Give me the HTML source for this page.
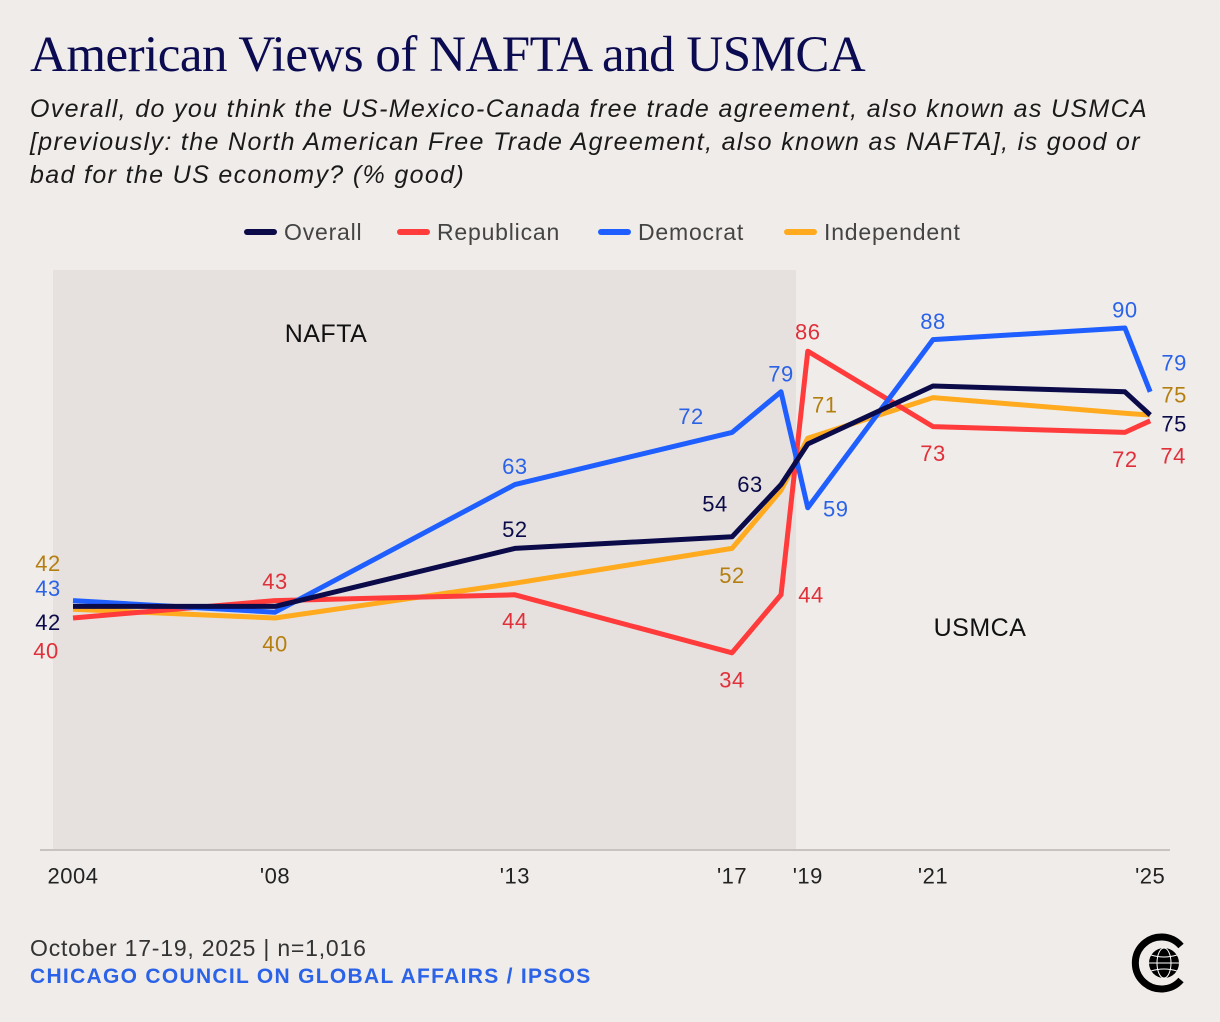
<!DOCTYPE html>
<html><head><meta charset="utf-8">
<style>
body{margin:0;background:#f0ece9;width:1220px;height:1022px;overflow:hidden;font-family:"Liberation Sans",sans-serif;}
#wrap{position:relative;width:1220px;height:1022px;}
.t{position:absolute;white-space:nowrap;}
</style></head><body>
<div id="wrap">
<div class="t" style="left:30px;top:26px;font-family:'Liberation Serif',serif;font-size:51px;color:#0b0b52;letter-spacing:-0.5px;">American Views of NAFTA and USMCA</div>
<div class="t" style="left:30px;top:93px;font-size:25px;line-height:33px;font-style:italic;color:#1a1a1a;letter-spacing:1.35px;">Overall, do you think the US-Mexico-Canada free trade agreement, also known as USMCA<br>[previously: the North American Free Trade Agreement, also known as NAFTA], is good or<br>bad for the US economy? (% good)</div>
<svg id="chart" width="1220" height="1022" style="position:absolute;left:0;top:0"></svg>
<div class="t" style="left:30px;top:935px;font-size:23px;color:#333;letter-spacing:0.8px;">October 17-19, 2025 | n=1,016</div>
<div class="t" style="left:30px;top:965px;font-size:21px;font-weight:bold;color:#2a62e8;letter-spacing:1.3px;">CHICAGO COUNCIL ON GLOBAL AFFAIRS / IPSOS</div>
<svg width="70" height="70" style="position:absolute;left:1126px;top:928px">
<path d="M55 18 A26 26 0 1 0 55 52" fill="none" stroke="#000" stroke-width="7"/>
<circle cx="38" cy="35" r="15" fill="#000"/>
<g stroke="#fff" stroke-width="1" fill="none"><ellipse cx="38" cy="35" rx="7" ry="15"/><line x1="23" y1="35" x2="53" y2="35"/><path d="M25 27 Q38 31 51 27"/><path d="M25 43 Q38 39 51 43"/></g>
</svg>
</div>
<script>
const dates=[2004,2008,2012.75,2017.05,2018.02,2018.55,2021.03,2024.83,2025.33];
const tickLabels=["2004","'08","'13","'17","","'19","'21","","'25"];
const overall=[42,42,52,54,63,70,80,79,75];
const republican=[40,43,44,34,44,86,73,72,74];
const democrat=[43,41,63,72,79,59,88,90,79];
const independent=[41.5,40,46,52,62,71,78,75.3,75];
const legendNames=["Overall","Republican","Democrat","Independent"];
const NS="http://www.w3.org/2000/svg";
const svg=document.getElementById('chart');
const x=d=>73+(d-2004)*50.5;
const y=v=>850-v*5.8;
function el(tag,attrs,parent){const e=document.createElementNS(NS,tag);for(const k in attrs)e.setAttribute(k,attrs[k]);(parent||svg).appendChild(e);return e;}
const bg=el('rect',{x:53,y:270,width:743,height:580,fill:'#e6e1de'});


const base=el('line',{x1:40,x2:1170,y1:850,y2:850,stroke:'#c8c3c0','stroke-width':2});


function txt(s,tx,ty,color,size,name,anchor){const t=el('text',{x:tx,y:ty,fill:color,'font-size':size,'text-anchor':anchor||'middle','dominant-baseline':'central','font-family':'Liberation Sans, sans-serif','letter-spacing':0.5});t.textContent=s;return t;}
txt('NAFTA',326,334,'#111',25,'nafta-label');
txt('USMCA',980,628,'#111',25,'usmca-label');
dates.forEach((d,i)=>{if(tickLabels[i])txt(tickLabels[i],x(d),876,'#222',22,'x-tick-label');});
const series=[
 {name:'overall',vals:overall,c:'#0b0b4a',lc:'#0b0b4a'},
 {name:'republican',vals:republican,c:'#ff3b3b',lc:'#e0303a'},
 {name:'democrat',vals:democrat,c:'#1f5fff',lc:'#2a62e8'},
 {name:'independent',vals:independent,c:'#ffaa1f',lc:'#b57f10'}];
const order=[3,1,2,0];
order.forEach(si=>{const s=series[si];const p=el('polyline',{points:s.vals.map((v,i)=>x(dates[i])+','+y(v)).join(' '),fill:'none',stroke:s.c,'stroke-width':5,'stroke-linejoin':'round'});

});
const labels=[
 [0,0,-25,16,'42'],[0,2,0,-19,''],[0,3,-17,-33,''],[0,4,-31,0,''],[0,8,24,9,''],
 [1,0,-27,33,''],[1,1,0,-19,''],[1,2,0,26,''],[1,3,0,27,''],[1,4,30,0,''],[1,5,0,-19,''],[1,6,0,27,''],[1,7,0,27,''],[1,8,23,35,''],
 [2,0,-25,-12,''],[2,2,0,-18,''],[2,3,-41,-16,''],[2,4,0,-18,''],[2,5,28,1,''],[2,6,0,-18,''],[2,7,0,-18,''],[2,8,24,-29,''],
 [3,0,-25,-46,'42'],[3,1,0,26,''],[3,3,0,27,''],[3,5,17,-33,''],[3,8,24,-20,'']];
labels.forEach(([si,i,dx,dy,ov])=>{const s=series[si];const v=ov||String(Math.round(s.vals[i]));txt(v,x(dates[i])+dx,y(s.vals[i])+dy,s.lc,22,s.name+'-value-label');});
const lx=[247,400,601,787];
series.forEach((s,i)=>{const g=el('g',{});

el('line',{x1:lx[i],x2:lx[i]+27,y1:232,y2:232,stroke:s.c,'stroke-width':6,'stroke-linecap':'round'},g);
const t=el('text',{x:lx[i]+37,y:232,'font-size':23,fill:'#444','dominant-baseline':'central','font-family':'Liberation Sans, sans-serif','letter-spacing':0.8},g);t.textContent=legendNames[i];});
</script>
</body></html>
